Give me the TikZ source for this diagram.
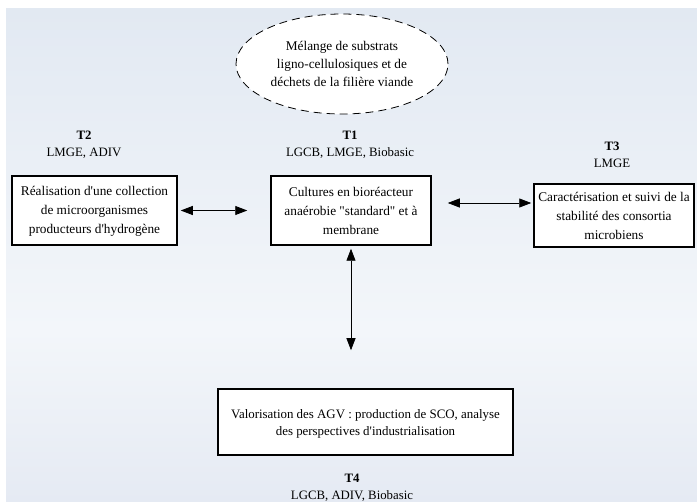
\documentclass[tikz,border=0pt]{standalone}
\usepackage{fontspec}
\setmainfont[Ligatures=TeXOff]{Liberation Serif}
\usetikzlibrary{arrows.meta,shapes.geometric}
\definecolor{bgtop}{HTML}{E2E9F2}
\definecolor{bgmid}{HTML}{F3F6FA}
\definecolor{bgbot}{HTML}{E5EAF3}
\tikzset{
  taskbox/.style={draw=black, line width=1.5pt, fill=white, inner sep=0pt},
  boxtext/.style={align=center, font=\fontsize{13.3}{19}\selectfont, inner sep=0pt},
  tlabel/.style={align=center, font=\fontsize{12.8}{17}\selectfont, inner sep=0pt},
  arr/.style={line width=0.8pt, {Triangle[length=12pt,width=9pt]}-{Triangle[length=12pt,width=9pt]}},
}
\begin{document}
\begin{tikzpicture}[x=1pt,y=-1pt]
\useasboundingbox (0,0) rectangle (697,502);
\fill[white] (0,0) rectangle (697,502);
\shade[top color=bgtop, bottom color=bgmid] (6,9) rectangle (697,330);
\shade[top color=bgmid, bottom color=bgbot] (6,330) rectangle (697,502);
% ellipse
\node[ellipse, draw=black, dashed, dash pattern=on 8pt off 5pt, line width=0.8pt, fill=white,
  minimum width=212pt, minimum height=100pt, inner sep=0pt] (src) at (342,64) {};
\node[boxtext, font=\fontsize{13.3}{18}\selectfont] (srctext) at (342,64) {Mélange de substrats\\ligno-cellulosiques et de\\déchets de la filière viande};
% boxes
\node[taskbox, minimum width=165pt, minimum height=69pt] (t2) at (94.5,210.5) {};
\node[boxtext] (t2text) at (94.5,211) {Réalisation d'une collection\\de microorganismes\\producteurs d'hydrogène};
\node[taskbox, minimum width=160pt, minimum height=69pt] (t1) at (351,210.5) {};
\node[boxtext] (t1text) at (351,211) {Cultures en bioréacteur\\anaérobie "standard" et à\\membrane};
\node[taskbox, minimum width=160pt, minimum height=63pt] (t3) at (614,215.5) {};
\node[boxtext] (t3text) at (614,216) {Caractérisation et suivi de la\\stabilité des consortia\\microbiens};
\node[taskbox, minimum width=295pt, minimum height=66pt] (t4) at (365.5,422) {};
\node[boxtext, font=\fontsize{12.9}{17}\selectfont] (t4text) at (365.5,424) {Valorisation des AGV : production de SCO, analyse\\des perspectives d'industrialisation};
% labels
\node[tlabel] (l2) at (84,145) {\textbf{T2}\\LMGE, ADIV};
\node[tlabel] (l1) at (350,145) {\textbf{T1}\\LGCB, LMGE, Biobasic};
\node[tlabel] (l3) at (612,155) {\textbf{T3}\\LMGE};
\node[tlabel] (l4) at (352,488) {\textbf{T4}\\LGCB, ADIV, Biobasic};
% arrows
\draw[arr, shorten <=3pt, shorten >=23pt] (t2.east) -- (t1.west);
\draw[arr, shorten <=16pt, shorten >=2pt] ([yshift=7.5pt]t1.east) coordinate (a13) -- (a13 -| t3.west);
\draw[arr, shorten <=3pt, shorten >=38pt] (t1.south) -- (t1.south |- t4.north);
\end{tikzpicture}
\end{document}
